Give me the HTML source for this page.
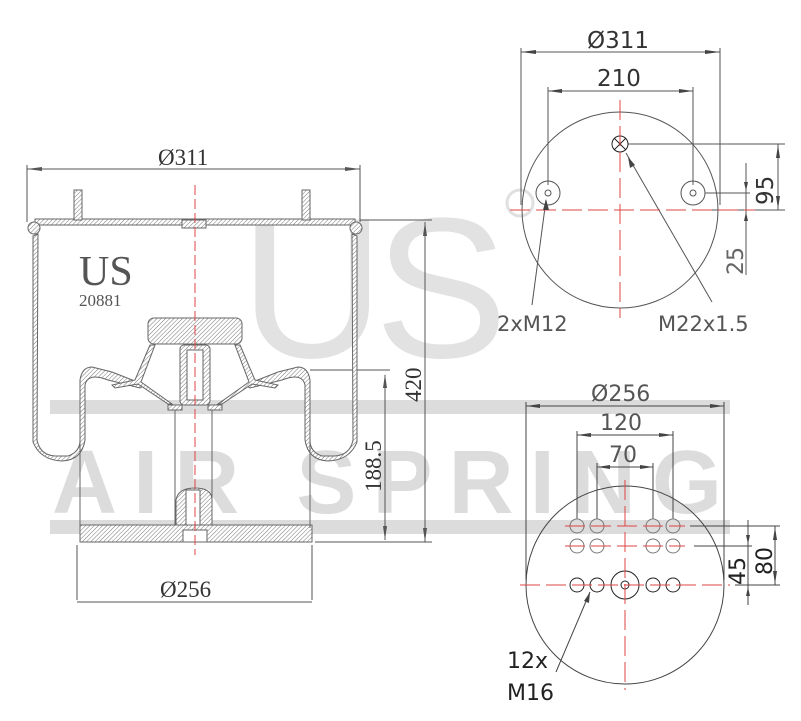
<!DOCTYPE html>
<html><head><meta charset="utf-8"><style>
html,body{margin:0;padding:0;background:#fff}
svg{display:block}
</style></head><body>
<svg width="801" height="721" viewBox="0 0 801 721" xmlns="http://www.w3.org/2000/svg">
<defs>
<pattern id="h" width="3" height="3" patternUnits="userSpaceOnUse" patternTransform="rotate(45)">
<rect width="3" height="3" fill="#fff"/><line x1="0" y1="0" x2="0" y2="3" stroke="#777" stroke-width="1"/>
</pattern>
</defs>
<!-- watermark -->
<g fill="#dcdcdc" font-family="Liberation Sans, sans-serif">
<text x="240" y="357" font-size="200" fill="#e2e2e2" style="letter-spacing:-10px">US</text>
<rect x="50" y="400" width="680" height="14"/>
<rect x="50" y="520" width="680" height="14"/>
<text x="52" y="513" font-size="90" font-weight="bold" textLength="670" lengthAdjust="spacing">AIR SPRING</text>
<circle cx="520" cy="203" r="13" fill="none" stroke="#e0e0e0" stroke-width="3"/>
</g>

<!-- LEFT DRAWING -->
<g stroke="#555" fill="none" stroke-width="1">
<line x1="27" y1="169" x2="360" y2="169"/>
<line x1="27" y1="165" x2="27" y2="222"/>
<line x1="360" y1="165" x2="360" y2="222"/>
<line x1="360" y1="220" x2="432" y2="220"/>
<line x1="315" y1="542" x2="432" y2="542"/>
<line x1="425" y1="222" x2="425" y2="542"/>
<line x1="310" y1="370" x2="390" y2="370"/>
<line x1="385" y1="375" x2="385" y2="540"/>
<line x1="77" y1="545" x2="77" y2="600"/>
<line x1="312" y1="545" x2="312" y2="600"/>
<line x1="77" y1="602" x2="312" y2="602"/>
</g>
<g fill="#555">
<polygon points="27,169 42,167 42,171"/><polygon points="360,169 345,167 345,171"/>
<polygon points="425,222 423,236 427,236"/><polygon points="425,542 423,528 427,528"/>
<polygon points="385,374 383,388 387,388"/><polygon points="385,540 383,526 387,526"/>
</g>
<g stroke="#666" stroke-width="1" fill="url(#h)">
<rect x="35" y="219" width="320" height="6"/>
<circle cx="34" cy="228" r="6"/><circle cx="356" cy="228" r="6"/>
<rect x="74" y="190" width="8" height="30"/><rect x="302" y="190" width="8" height="30"/>
<rect x="182" y="220" width="24" height="8"/>
<path d="M38,234 L37,440 Q40,455 55,456 L68,456 Q80,452 80,440 L80,380 Q82,367 92,367 L112,372 L145,385 L140,388 L108,380 Q88,372 85,385 L85,440 Q82,460 62,461 Q40,460 33,442 L33,236 Z"/>
<path d="M352,234 L353,440 Q350,455 335,456 L322,456 Q310,452 310,440 L310,380 Q308,367 298,367 L278,372 L245,385 L250,388 L282,380 Q302,372 305,385 L305,440 Q308,460 328,461 Q350,460 357,442 L357,236 Z"/>
<rect x="148" y="318" width="94" height="26" rx="6"/>
<path d="M150,345 L135,380 L112,385 L115,388 L138,384 L168,404 L172,404 L141,382 L155,345 Z"/>
<path d="M240,345 L255,380 L278,385 L275,388 L252,384 L222,404 L218,404 L249,382 L235,345 Z"/>
<rect x="180" y="345" width="30" height="60" rx="4"/>
<rect x="168" y="405" width="14" height="5"/><rect x="208" y="405" width="14" height="5"/>
<rect x="80" y="525" width="232" height="17"/>
<path d="M176,525 L176,500 Q178,488 195,488 Q212,488 212,500 L212,525 Z"/>
</g>
<g stroke="#666" fill="none">
<line x1="80" y1="380" x2="80" y2="528"/><line x1="310" y1="380" x2="310" y2="528"/>
<line x1="175" y1="410" x2="175" y2="525"/><line x1="212" y1="410" x2="212" y2="525"/>
<rect x="186" y="490" width="14" height="35" fill="#fff"/>
<rect x="183" y="530" width="24" height="12" fill="#fff"/>
<rect x="187" y="350" width="16" height="50" fill="#fff"/>
</g>
<line x1="195" y1="185" x2="195" y2="555" stroke="#d44" stroke-width="1" stroke-dasharray="10,4"/>
<g font-family="Liberation Serif, serif" fill="#555">
<text x="79" y="285" font-size="42">US</text>
<text x="79" y="306" font-size="17">20881</text>
<text x="158" y="165" font-size="23" fill="#333">Ø311</text>
<text x="160" y="597" font-size="23" fill="#333">Ø256</text>
<text transform="translate(421,402) rotate(-90)" font-size="23" fill="#333">420</text>
<text transform="translate(381,492) rotate(-90)" font-size="23" fill="#333">188.5</text>
</g>

<!-- TOP RIGHT -->
<g stroke="#555" fill="none" stroke-width="1">
<circle cx="620" cy="210" r="98"/>
<line x1="521" y1="52" x2="720" y2="52"/>
<line x1="521" y1="48" x2="521" y2="205"/><line x1="720" y1="48" x2="720" y2="205"/>
<line x1="548" y1="91" x2="693" y2="91"/>
<line x1="548" y1="87" x2="548" y2="185"/><line x1="693" y1="87" x2="693" y2="185"/>
<circle cx="548" cy="193" r="12"/><circle cx="548" cy="193" r="3"/>
<circle cx="693" cy="193" r="12"/><circle cx="693" cy="193" r="3"/>
<line x1="705" y1="193" x2="750" y2="193"/>
<line x1="628" y1="144" x2="785" y2="144"/>
<line x1="700" y1="210" x2="785" y2="210"/>
<line x1="778" y1="144" x2="778" y2="210"/>
<line x1="746" y1="163" x2="746" y2="275"/>
<line x1="546" y1="200" x2="532" y2="305"/>
<line x1="626" y1="153" x2="712" y2="302"/>
</g>
<g stroke="#222" fill="none"><circle cx="620" cy="144" r="8"/><line x1="614" y1="138" x2="626" y2="150"/><line x1="614" y1="150" x2="626" y2="138"/></g>
<g stroke="#d44" stroke-dasharray="20,6"><line x1="510" y1="210" x2="755" y2="210"/><line x1="620" y1="100" x2="620" y2="318"/></g>
<g fill="#444">
<polygon points="521,52 536,50 536,54"/><polygon points="720,52 705,50 705,54"/>
<polygon points="548,91 562,89 562,93"/><polygon points="693,91 679,89 679,93"/>
<polygon points="778,145 776,158 780,158"/><polygon points="778,209 776,196 780,196"/>
<polygon points="746,191 744,182 748,182"/><polygon points="746,212 744,221 748,221"/>
<polygon points="546,199 543,210 549,210"/><polygon points="628,157 630,168 635,165"/>
</g>
<g font-family="DejaVu Sans, sans-serif" fill="#333">
<text x="587" y="48" font-size="23">Ø311</text>
<text x="597" y="86" font-size="23">210</text>
<text transform="translate(773,205) rotate(-90)" font-size="23">95</text>
<text transform="translate(743,275) rotate(-90)" font-size="22" fill="#666">25</text>
<text x="497" y="331" font-size="21" fill="#555">2xM12</text>
<text x="658" y="331" font-size="21" fill="#555">M22x1.5</text>
</g>

<!-- BOTTOM RIGHT -->
<g stroke="#444" fill="none" stroke-width="1">
<circle cx="625" cy="585" r="99"/>
<line x1="526" y1="406" x2="724" y2="406"/>
<line x1="526" y1="402" x2="526" y2="580"/><line x1="724" y1="402" x2="724" y2="580"/>
<line x1="577" y1="435" x2="673" y2="435"/>
<line x1="577" y1="431" x2="577" y2="519"/><line x1="673" y1="431" x2="673" y2="519"/>
<line x1="597" y1="467" x2="653" y2="467"/>
<line x1="597" y1="463" x2="597" y2="519"/><line x1="653" y1="463" x2="653" y2="519"/>
<line x1="690" y1="526" x2="780" y2="526"/>
<line x1="694" y1="546" x2="752" y2="546"/>
<line x1="735" y1="585" x2="780" y2="585"/>
<line x1="775" y1="526" x2="775" y2="585"/>
<line x1="748" y1="520" x2="748" y2="605"/>
<line x1="590" y1="592" x2="556" y2="672"/>
</g>
<g stroke="#777" fill="none"><circle cx="577" cy="526" r="7"/><circle cx="597" cy="526" r="7"/><circle cx="653" cy="526" r="7"/><circle cx="673" cy="526" r="7"/>
<circle cx="577" cy="546" r="7"/><circle cx="597" cy="546" r="7"/><circle cx="653" cy="546" r="7"/><circle cx="673" cy="546" r="7"/></g>
<g stroke="#222" fill="none"><circle cx="577" cy="585" r="7"/><circle cx="597" cy="585" r="7"/><circle cx="653" cy="585" r="7"/><circle cx="673" cy="585" r="7"/>
<circle cx="625" cy="585" r="14"/><circle cx="625" cy="585" r="4"/></g>
<g stroke="#d44" stroke-dasharray="20,6">
<line x1="520" y1="585" x2="730" y2="585"/><line x1="625" y1="480" x2="625" y2="690"/>
<line x1="565" y1="526" x2="685" y2="526"/><line x1="565" y1="546" x2="685" y2="546"/>
</g>
<g fill="#444">
<polygon points="526,406 540,404 540,408"/><polygon points="724,406 710,404 710,408"/>
<polygon points="577,435 591,433 591,437"/><polygon points="673,435 659,433 659,437"/>
<polygon points="597,467 610,465 610,469"/><polygon points="653,467 640,465 640,469"/>
<polygon points="775,527 773,540 777,540"/><polygon points="775,584 773,571 777,571"/>
<polygon points="748,544 746,535 750,535"/><polygon points="748,587 746,596 750,596"/>
<polygon points="590,592 584,601 589,603"/>
</g>
<g font-family="DejaVu Sans, sans-serif" fill="#555">
<text x="591" y="401" font-size="22">Ø256</text>
<text x="600" y="430" font-size="22">120</text>
<text x="609" y="462" font-size="22">70</text>
<text transform="translate(772,575) rotate(-90)" font-size="22" fill="#222">80</text>
<text transform="translate(745,585) rotate(-90)" font-size="22" fill="#222">45</text>
<text x="507" y="668" font-size="22" fill="#222">12x</text>
<text x="507" y="700" font-size="22" fill="#222">M16</text>
</g>
</svg>
</body></html>
